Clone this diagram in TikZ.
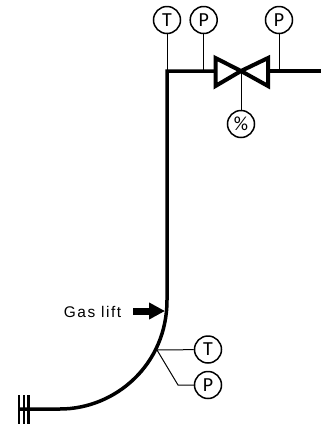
\documentclass[tikz,border=0pt]{standalone}
\usepackage{fontspec}
\setmainfont{Liberation Sans}
\newfontfamily\gaugefont{Carlito}
\usetikzlibrary{arrows.meta}
\tikzset{
  gauge/.style={draw,circle,line width=1.5bp,fill=white,inner sep=0pt,minimum size=27bp,font=\gaugefont\fontsize{20}{20}\selectfont},
  pipe/.style={line width=3.5bp},
  stub/.style={line width=1bp}
}
\begin{document}
\begin{tikzpicture}[x=1bp,y=-1bp]
    \useasboundingbox (0,0) rectangle (321,426);
    \coordinate (elbow) at (167,71);
    \coordinate (bendtop) at (167,300);
    \coordinate (bendend) at (60,409);
    \coordinate (wellend) at (20,409);
    \coordinate (outlet) at (321,71);
    \coordinate (valveleft) at (216,71);
    \coordinate (valveright) at (268,71);
    \coordinate (valvemid) at (241,71);
    \coordinate (tapT) at (167,71);
    \coordinate (tapP) at (203.7,71);
    \coordinate (tapQ) at (279,71);
    \coordinate (tapcurve) at (157,350);
    \coordinate (kink) at (178,385);
    \coordinate (arrowtail) at (133,311);
    \coordinate (arrowhead) at (165,311);
    % pipe
    \draw[pipe] (valveleft) -- (elbow) -- (bendtop)
      .. controls (167,365) and (115,409) .. (bendend) -- (wellend);
    \draw[pipe] (valveright) -- (outlet);
    % valve
    \draw[line width=4bp,miter limit=3] (valvemid) -- (215.5,58) -- (215.5,86) -- cycle;
    \draw[line width=4bp,miter limit=3] (valvemid) -- (268,58) -- (268,86) -- cycle;
    % instruments
    \node[gauge] (topT) at (167,20) {T};
    \node[gauge] (topP) at (203.7,20) {P};
    \node[gauge] (outP) at (279,20) {P};
    \node[gauge] (valvepct) at (241,124) {\%};
    \node[gauge] (lowT) at (208,349.5) {T};
    \node[gauge] (lowP) at (208,385) {P};
    \draw[stub] (topT) -- (tapT);
    \draw[stub] (topP) -- (tapP);
    \draw[stub] (outP) -- (tapQ);
    \draw[stub] (valvepct) -- (valvemid);
    \draw[stub] (tapcurve) -- (lowT);
    \draw[stub] (tapcurve) -- (kink) -- (lowP);
    % well end
    \foreach \xpos in {19,23.7,28.4} {
      \draw[line width=2.4bp] (\xpos,395) -- (\xpos,424);
    }
    % gas lift
    \node[font=\addfontfeature{LetterSpace=10}\fontsize{15.5}{15.5}\selectfont] (gaslift) at (92.5,312) {Gas lift};
    \draw[line width=7bp,-{Triangle[length=16bp,width=16bp]}] (arrowtail) -- (arrowhead);
\end{tikzpicture}
\end{document}
